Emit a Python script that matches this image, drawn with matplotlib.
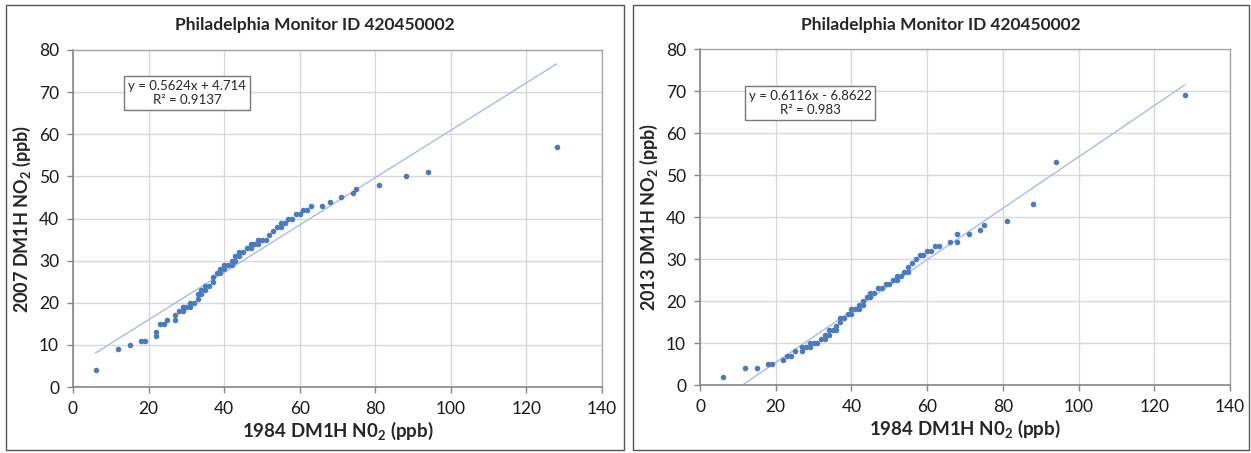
import matplotlib.pyplot as plt
from matplotlib.patches import Rectangle

plt.rcParams['font.family'] = ['Lato', 'DejaVu Sans']
plt.rcParams['mathtext.fontset'] = 'custom'
plt.rcParams['mathtext.rm'] = 'Lato'
plt.rcParams['mathtext.bf'] = 'Lato:bold'

# 1984 design values, sorted (shared x for both quantile plots)
no2_1984_a = [6, 12, 15, 18, 19, 22, 22, 23, 24, 25, 27, 27, 28, 29, 29, 30, 31, 31, 32,
              33, 33, 34, 34, 35, 35, 36, 37, 37, 38, 39, 39, 40, 40, 41, 42, 42, 43, 43,
              44, 44, 45, 46, 47, 47, 48, 49, 49, 50, 51, 52, 53, 54, 55, 55, 56, 57, 58,
              59, 60, 61, 62, 63, 66, 68, 71, 74, 75, 81, 88, 94, 128]
no2_2007 = [4, 9, 10, 11, 11, 12, 13, 15, 15, 16, 16, 17, 18, 18, 19, 19, 19, 20, 20,
            21, 22, 22, 23, 23, 24, 24, 25, 26, 27, 27, 28, 28, 29, 29, 29, 30, 30, 31,
            31, 32, 32, 33, 33, 34, 34, 34, 35, 35, 35, 36, 37, 38, 38, 39, 39, 40, 40,
            41, 41, 42, 42, 43, 43, 44, 45, 46, 47, 48, 50, 51, 57]

no2_1984_b = [6, 12, 15, 18, 19, 22, 23, 24, 25, 27, 27, 28, 29, 29, 30, 31, 32, 33, 33,
              34, 34, 35, 36, 36, 37, 37, 38, 39, 40, 40, 41, 42, 42, 43, 43, 44, 45, 45,
              46, 47, 48, 49, 50, 51, 52, 52, 53, 54, 55, 55, 56, 57, 58, 59, 60, 61, 62,
              63, 66, 68, 68, 71, 74, 75, 81, 88, 94, 128]
no2_2013 = [2, 4, 4, 5, 5, 6, 7, 7, 8, 8, 9, 9, 9, 10, 10, 10, 11, 11, 12,
            12, 13, 13, 13, 14, 15, 16, 16, 17, 17, 18, 18, 18, 19, 19, 20, 21, 21, 22,
            22, 23, 23, 24, 24, 25, 25, 26, 26, 27, 27, 28, 29, 30, 31, 31, 32, 32, 33,
            33, 34, 34, 36, 36, 37, 38, 39, 43, 53, 69]

fit_2007 = (0.5624, 4.714)
fit_2013 = (0.6116, -6.8622)

title = 'Philadelphia Monitor ID 420450002'
xlabel = r'1984 DM1H N0$_\mathbf{2}$ (ppb)'
ylabels = [r'2007 DM1H NO$_\mathbf{2}$ (ppb)', r'2013 DM1H NO$_\mathbf{2}$ (ppb)']
eq_texts = ['y = 0.5624x + 4.714\nR² = 0.9137', 'y = 0.6116x - 6.8622\nR² = 0.983']

W, H = 1251, 453
fig = plt.figure(figsize=(W / 100, H / 100), dpi=100)

# panel frames, in pixels (x0, y0_top, x1, y1_bottom)
frames = [(6, 5, 624, 450), (633, 5, 1249, 450)]
plot_areas = [(73, 50, 602, 387), (700, 49, 1230, 385)]
eq_pos = [(187, 93), (810, 103)]

datasets = [(no2_1984_a, no2_2007, fit_2007), (no2_1984_b, no2_2013, fit_2013)]

for i in range(2):
    fx0, fy0, fx1, fy1 = frames[i]
    fig.patches.append(Rectangle((fx0 / W, 1 - fy1 / H), (fx1 - fx0) / W, (fy1 - fy0) / H,
                                 transform=fig.transFigure, fill=False,
                                 edgecolor='#555555', linewidth=1.0))

    px0, py0, px1, py1 = plot_areas[i]
    ax = fig.add_axes([px0 / W, 1 - py1 / H, (px1 - px0) / W, (py1 - py0) / H])
    x, y, (slope, icpt) = datasets[i]

    ax.set_xlim(0, 140)
    ax.set_ylim(0, 80)
    ax.set_xticks(range(0, 141, 20))
    ax.set_yticks(range(0, 81, 10))
    ax.grid(True, color='#d9d9d9', linewidth=1.0)
    ax.set_axisbelow(True)
    for side in ['top', 'right']:
        ax.spines[side].set_color('#a6a6a6')
        ax.spines[side].set_linewidth(1.0)
    for side in ['left', 'bottom']:
        ax.spines[side].set_color('#868686')
        ax.spines[side].set_linewidth(1.2)
    ax.tick_params(direction='out', length=4, width=1, color='#868686',
                   labelsize=12.5, labelcolor='#1a1a1a', pad=6)

    # linear trendline over the data range, from the fitted equation
    xs = [min(x), max(x)]
    ys = [slope * v + icpt for v in xs]
    ax.plot(xs, ys, color='#a9bce0', linewidth=1.0, zorder=2)
    ax.scatter(x, y, s=16, color='#4a7bbf', zorder=3, linewidths=0)

    ax.set_xlabel(xlabel, fontsize=13.5, fontweight='bold', color='#262626', labelpad=2)
    ax.set_ylabel(ylabels[i], fontsize=13, fontweight='bold', color='#262626', labelpad=4)

    fig.text((fx0 + fx1) / 2 / W, 1 - 25 / H, title, ha='center', va='center',
             fontsize=12.5, fontweight='bold', color='#262626')

    ex, ey = eq_pos[i]
    fig.text(ex / W, 1 - ey / H, eq_texts[i], ha='center', va='center', fontsize=9.5,
             color='#262626', linespacing=1.3,
             bbox=dict(boxstyle='square,pad=0.3', facecolor='white',
                       edgecolor='#777777', linewidth=1.0))

fig.savefig('out.png', dpi=100)
